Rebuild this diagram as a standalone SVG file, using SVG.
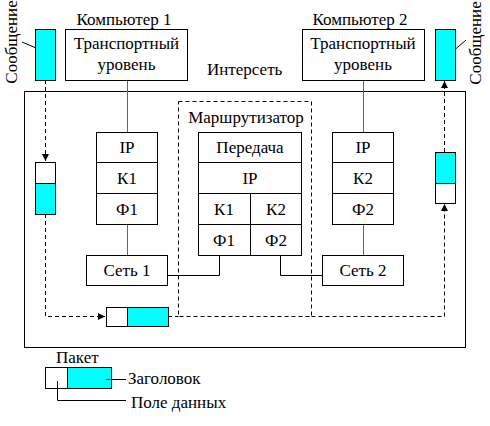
<svg xmlns="http://www.w3.org/2000/svg" width="490" height="426" viewBox="0 0 490 426">
<defs>
<style>
.b{fill:#fff;stroke:#000;stroke-width:1}
.c{fill:#00ffff;stroke:#000;stroke-width:1}
.n{fill:none;stroke:#000;stroke-width:1}
.d{fill:none;stroke:#000;stroke-width:1;stroke-dasharray:4,3}
.g{fill:none;stroke:#666;stroke-width:1}
.m{text-anchor:middle}
</style>
<marker id="ah" viewBox="0 0 8 8" refX="8" refY="4" markerWidth="7" markerHeight="7" orient="auto" markerUnits="userSpaceOnUse">
<path d="M0,0 L8,4 L0,8 z" fill="#000"/>
</marker>
</defs>
<rect fill="#fff" x="0" y="0" width="490" height="426"/>
<g font-family="Liberation Serif, Times New Roman, serif" font-size="17" fill="#000">
<g id="internet">
<rect class="n" x="24.5" y="91.5" width="441" height="256"/>
<text x="207" y="75">Интерсеть</text>
</g>

<g id="router">
<rect class="d" x="178.5" y="101.5" width="133" height="215"/>
<text class="m" x="246" y="123">Маршрутизатор</text>
<rect class="b" x="198.5" y="132.5" width="103" height="123"/>
<path class="n" d="M198.5,162.5H301.5M198.5,193.5H301.5M198.5,224.5H301.5M250.5,193.5V255.5"/>
<text class="m" x="250" y="153">Передача</text>
<text class="m" x="250" y="184">IP</text>
<text class="m" x="224" y="215">К1</text>
<text class="m" x="276" y="215">К2</text>
<text class="m" x="224" y="246">Ф1</text>
<text class="m" x="276" y="246">Ф2</text>
</g>

<g id="connectors">
<path class="g" d="M127.5,80V132M127.5,224V255M363.5,80V132M363.5,224V255"/>
<path class="n" d="M168,275.5H219.5V255.5M280.5,255.5V275.5H322"/>
<path class="d" d="M45.5,80V161" marker-end="url(#ah)"/>
<path class="d" d="M45.5,214V316.5H105" marker-end="url(#ah)"/>
<path class="d" d="M168,316.5H178.5"/>
<path class="d" d="M311.5,316.5H444.5V204" marker-end="url(#ah)"/>
<path class="d" d="M444.5,152V81" marker-end="url(#ah)"/>
<path class="n" d="M22,42L43,51M451,53L466,40"/>
</g>

<g id="comp1">
<text class="m" x="124" y="25">Компьютер 1</text>
<rect class="b" x="65.5" y="29.5" width="122" height="51"/>
<text class="m" x="126.5" y="49">Транспортный</text>
<text class="m" x="126.5" y="70">уровень</text>
</g>

<g id="comp2">
<text class="m" x="360" y="25">Компьютер 2</text>
<rect class="b" x="302.5" y="29.5" width="122" height="51"/>
<text class="m" x="363" y="49">Транспортный</text>
<text class="m" x="363" y="70">уровень</text>
</g>

<g id="msg1">
<rect class="c" x="35.5" y="29.5" width="20" height="51"/>
<text class="m" transform="translate(17,42) rotate(-90)">Сообщение</text>
</g>

<g id="msg2">
<rect class="c" x="435.5" y="29.5" width="20" height="51"/>
<text class="m" transform="translate(481,43) rotate(-90)">Сообщение</text>
</g>

<g id="stack1">
<rect class="b" x="96.5" y="132.5" width="61" height="92"/>
<path class="n" d="M96.5,162.5H157.5M96.5,193.5H157.5"/>
<text class="m" x="127" y="153">IP</text>
<text class="m" x="127" y="184">К1</text>
<text class="m" x="127" y="215">Ф1</text>
</g>

<g id="stack2">
<rect class="b" x="332.5" y="132.5" width="61" height="92"/>
<path class="n" d="M332.5,162.5H393.5M332.5,193.5H393.5"/>
<text class="m" x="363" y="153">IP</text>
<text class="m" x="363" y="184">К2</text>
<text class="m" x="363" y="215">Ф2</text>
</g>

<g id="net1">
<rect class="b" x="86.5" y="255.5" width="81" height="30"/>
<text class="m" x="127" y="276">Сеть 1</text>
</g>

<g id="net2">
<rect class="b" x="322.5" y="255.5" width="81" height="30"/>
<text class="m" x="363" y="276">Сеть 2</text>
</g>

<g id="pkt-left">
<rect class="b" x="35.5" y="162.5" width="20" height="21"/>
<rect class="c" x="35.5" y="183.5" width="20" height="31"/>
</g>

<g id="pkt-right">
<rect class="c" x="435.5" y="152.5" width="20" height="31"/>
<rect class="b" x="435.5" y="183.5" width="20" height="20"/>
</g>

<g id="pkt-bottom">
<rect class="b" x="106.5" y="307.5" width="21" height="19"/>
<rect class="c" x="127.5" y="307.5" width="41" height="19"/>
</g>

<g id="legend">
<text x="56" y="363">Пакет</text>
<rect class="b" x="45.5" y="367.5" width="22" height="21"/>
<rect class="c" x="67.5" y="367.5" width="44" height="21"/>
<path class="n" d="M106,379.5H126M57.5,381V400.5H126"/>
<text x="128" y="384">Заголовок</text>
<text x="131" y="408">Поле данных</text>
</g>
</g>
</svg>
